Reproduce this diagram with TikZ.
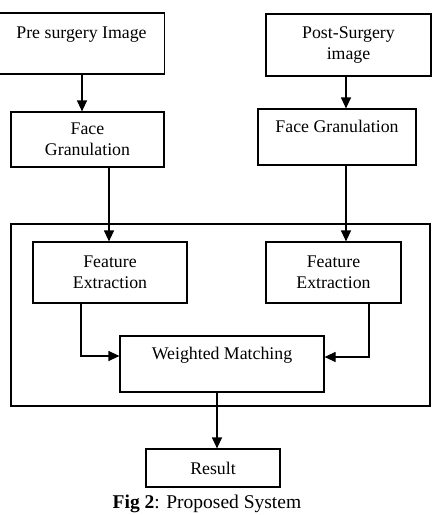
\documentclass[tikz,border=0pt]{standalone}
\usepackage{fontspec}
\setmainfont{Liberation Serif}
\usetikzlibrary{arrows.meta}
\begin{document}
\begin{tikzpicture}[x=1pt,y=-1pt,
  box/.style={draw,line width=1.2pt,inner sep=0pt,align=center,
    font=\fontsize{17.8}{21}\selectfont},
  arr/.style={line width=1.2pt,-{Triangle[length=11pt,width=10pt]}},
  link/.style={line width=1.2pt}]
\useasboundingbox (0,0) rectangle (437,515);
% outer frame around the matching stage
\node[box,minimum width=419pt,minimum height=182pt] (frame) at (220.5,315) {};
% input branch boxes
\node[box,minimum width=166pt,minimum height=61pt] (pre) at (81.5,43.5) {Pre surgery Image\\\phantom{X}};
\node[box,minimum width=165pt,minimum height=62pt] (post) at (348.5,45) {Post-Surgery\\image};
\node[box,minimum width=153pt,minimum height=55pt] (fgL) at (87.5,139.5) {Face\\Granulation};
\node[box,minimum width=158pt,minimum height=56pt] (fgR) at (337,137) {Face Granulation\\\phantom{X}};
\node[box,minimum width=154pt,minimum height=61pt] (feL) at (110,272.5) {Feature\\Extraction};
\node[box,minimum width=135pt,minimum height=61pt] (feR) at (333.5,272.5) {Feature\\Extraction};
\node[box,minimum width=204pt,minimum height=56pt] (wm) at (222,364) {Weighted Matching\\\phantom{X}};
\node[box,minimum width=134pt,minimum height=38pt] (res) at (213,468) {Result};
\node[font=\fontsize{19.5}{22}\selectfont,anchor=base] (cap) at (207,508) {\textbf{Fig 2}: Proposed System};
% connector columns and bend rows
\coordinate (cL1) at (82,0);
\coordinate (cR1) at (346,0);
\coordinate (cL2) at (109,0);
\coordinate (cL3) at (81,356);
\coordinate (cR3) at (369,357);
\coordinate (cM) at (217,0);
\draw[arr] (pre.south -| cL1) -- (fgL.north -| cL1);
\draw[arr] (post.south -| cR1) -- (fgR.north -| cR1);
\draw[arr] (fgL.south -| cL2) -- (feL.north -| cL2);
\draw[arr] (fgR.south -| cR1) -- (feR.north -| cR1);
\draw[arr] (feL.south -| cL3) -- (cL3) -- (wm.west |- cL3);
\draw[arr] (feR.south -| cR3) -- (cR3) -- (wm.east |- cR3);
\draw[arr] (wm.south -| cM) -- (res.north -| cM);
\end{tikzpicture}
\end{document}
